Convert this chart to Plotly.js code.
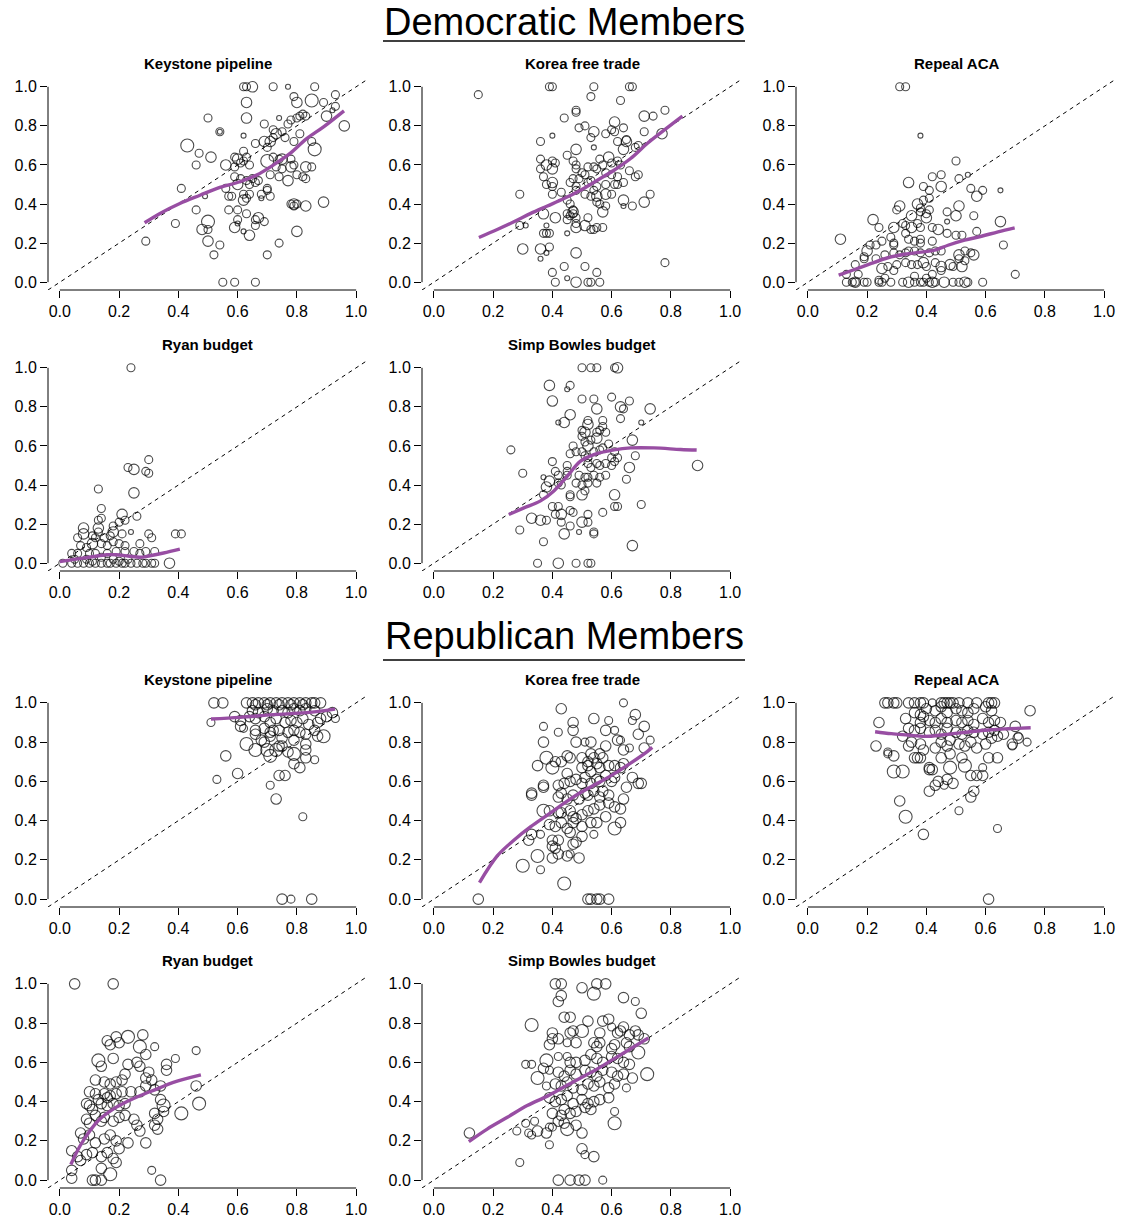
<!DOCTYPE html>
<html>
<head>
<meta charset="utf-8">
<script src="https://cdn.plot.ly/plotly-3.0.1.min.js"></script>
<style>html,body{margin:0;padding:0;background:#fff;}#chart{width:1124px;height:1220px;}</style>
</head>
<body>
<div id="chart"></div>
<script>
// ---------- data: [x, y, weight] ----------
const tickVals = [0, 0.2, 0.4, 0.6, 0.8, 1.0];
const tickText = ["0.0", "0.2", "0.4", "0.6", "0.8", "1.0"];
const groupTitles = ["Democratic Members", "Republican Members"];
const panelTitles = ["Keystone pipeline", "Korea free trade", "Repeal ACA", "Ryan budget", "Simp Bowles budget"];

const demKeystone = [[0.29,0.21,2],[0.39,0.30,2],[0.41,0.48,2],[0.43,0.70,4],[0.47,0.66,2],[0.46,0.60,2],[0.50,0.84,2],[0.51,0.64,3],[0.54,0.77,2],[0.54,0.77,1],[0.46,0.37,2],[0.49,0.44,1],[0.48,0.27,3],[0.50,0.31,4],[0.50,0.27,2],[0.50,0.21,3],[0.54,0.19,2],[0.52,0.14,2],[0.55,0,2],[0.59,0,2],[0.66,0,2],[0.62,1,2],[0.63,1,2],[0.65,1,3],[0.72,1,2],[0.77,1,1],[0.86,1,2],[0.63,0.92,3],[0.79,0.95,2],[0.80,0.92,3],[0.85,0.93,4],[0.89,0.92,2],[0.93,0.96,2],[0.93,0.90,2],[0.92,0.88,1],[0.90,0.85,3],[0.96,0.80,3],[0.81,0.85,2],[0.82,0.86,2],[0.83,0.85,2],[0.80,0.84,2],[0.78,0.83,2],[0.74,0.84,1],[0.77,0.81,2],[0.63,0.84,3],[0.62,0.75,1],[0.69,0.81,2],[0.72,0.78,2],[0.73,0.76,3],[0.75,0.77,2],[0.76,0.74,2],[0.72,0.74,2],[0.71,0.72,3],[0.81,0.76,2],[0.79,0.72,2],[0.85,0.72,2],[0.86,0.68,4],[0.66,0.71,2],[0.69,0.72,3],[0.70,0.69,2],[0.62,0.67,2],[0.59,0.64,2],[0.60,0.63,3],[0.62,0.62,2],[0.63,0.64,2],[0.64,0.60,2],[0.56,0.60,3],[0.59,0.59,2],[0.61,0.61,2],[0.70,0.62,4],[0.72,0.64,2],[0.74,0.63,2],[0.75,0.63,3],[0.78,0.63,2],[0.73,0.59,2],[0.75,0.58,2],[0.78,0.59,3],[0.79,0.60,2],[0.83,0.59,3],[0.85,0.59,2],[0.82,0.54,2],[0.83,0.53,2],[0.80,0.55,2],[0.77,0.52,3],[0.74,0.54,2],[0.71,0.55,2],[0.67,0.52,2],[0.65,0.53,2],[0.63,0.52,2],[0.59,0.54,2],[0.61,0.53,2],[0.60,0.50,3],[0.64,0.50,2],[0.66,0.51,2],[0.70,0.48,2],[0.70,0.47,2],[0.68,0.45,2],[0.71,0.44,2],[0.68,0.43,1],[0.56,0.48,2],[0.57,0.44,2],[0.58,0.44,2],[0.62,0.42,3],[0.63,0.43,2],[0.64,0.45,2],[0.62,0.45,2],[0.57,0.37,2],[0.60,0.37,2],[0.63,0.35,2],[0.67,0.33,3],[0.66,0.32,2],[0.69,0.31,2],[0.66,0.29,2],[0.60,0.32,2],[0.60,0.30,1],[0.59,0.28,3],[0.62,0.26,1],[0.64,0.24,3],[0.78,0.40,2],[0.79,0.40,3],[0.80,0.40,2],[0.79,0.39,2],[0.83,0.39,3],[0.89,0.41,3],[0.80,0.26,3],[0.74,0.20,2],[0.70,0.14,2]];
const demKeystoneFit = [[0.286,0.304],[0.338,0.352],[0.405,0.403],[0.473,0.445],[0.54,0.485],[0.608,0.514],[0.664,0.548],[0.72,0.599],[0.777,0.659],[0.833,0.735],[0.89,0.795],[0.959,0.877]];

const demKorea = [[0.15,0.96,2],[0.39,1,2],[0.40,1,2],[0.54,1,2],[0.66,1,2],[0.67,1,2],[0.53,0.95,2],[0.63,0.93,2],[0.48,0.88,2],[0.48,0.87,2],[0.44,0.84,2],[0.51,0.80,2],[0.49,0.79,2],[0.54,0.77,3],[0.53,0.74,2],[0.58,0.76,2],[0.61,0.82,3],[0.60,0.78,2],[0.61,0.77,2],[0.64,0.79,2],[0.62,0.72,2],[0.65,0.73,2],[0.65,0.72,3],[0.64,0.68,3],[0.69,0.70,2],[0.68,0.69,2],[0.71,0.85,3],[0.74,0.85,2],[0.78,0.88,2],[0.71,0.77,2],[0.77,0.76,3],[0.54,0.69,1],[0.40,0.75,1],[0.36,0.72,2],[0.48,0.68,3],[0.45,0.65,2],[0.36,0.63,2],[0.36,0.58,2],[0.40,0.62,2],[0.41,0.61,2],[0.38,0.60,3],[0.40,0.58,3],[0.37,0.54,2],[0.40,0.51,3],[0.38,0.50,2],[0.40,0.49,2],[0.47,0.62,2],[0.48,0.60,2],[0.48,0.58,2],[0.50,0.56,2],[0.51,0.55,2],[0.52,0.59,2],[0.54,0.59,2],[0.55,0.58,2],[0.56,0.63,2],[0.59,0.64,3],[0.60,0.61,2],[0.62,0.62,2],[0.63,0.60,2],[0.57,0.60,2],[0.58,0.56,2],[0.60,0.55,2],[0.62,0.54,2],[0.66,0.57,2],[0.69,0.55,2],[0.68,0.54,2],[0.64,0.51,2],[0.62,0.50,2],[0.61,0.50,2],[0.58,0.50,2],[0.55,0.49,2],[0.54,0.47,2],[0.52,0.51,2],[0.53,0.52,2],[0.49,0.53,2],[0.47,0.53,2],[0.46,0.51,2],[0.48,0.49,2],[0.48,0.47,2],[0.51,0.45,2],[0.53,0.44,2],[0.55,0.44,3],[0.58,0.45,3],[0.60,0.45,2],[0.55,0.41,2],[0.56,0.40,2],[0.58,0.39,2],[0.57,0.36,3],[0.64,0.42,3],[0.64,0.39,1],[0.67,0.39,2],[0.71,0.41,3],[0.73,0.45,2],[0.29,0.45,2],[0.40,0.45,2],[0.43,0.46,2],[0.45,0.42,2],[0.46,0.40,2],[0.47,0.37,2],[0.47,0.36,3],[0.45,0.35,2],[0.47,0.35,2],[0.37,0.35,3],[0.41,0.33,3],[0.45,0.32,2],[0.46,0.34,2],[0.48,0.33,2],[0.48,0.30,2],[0.48,0.28,3],[0.52,0.33,2],[0.51,0.29,3],[0.53,0.27,2],[0.54,0.27,2],[0.55,0.28,2],[0.57,0.28,2],[0.29,0.29,2],[0.31,0.29,1],[0.38,0.29,1],[0.37,0.25,2],[0.38,0.25,2],[0.39,0.25,2],[0.45,0.25,1],[0.30,0.17,3],[0.36,0.17,3],[0.39,0.18,2],[0.38,0.15,1],[0.36,0.12,1],[0.48,0.15,3],[0.44,0.08,2],[0.40,0.05,2],[0.45,0.02,1],[0.51,0.08,2],[0.55,0.05,2],[0.41,0,2],[0.48,0,3],[0.52,0,2],[0.53,0,2],[0.56,0,2],[0.78,0.10,2]];
const demKoreaFit = [[0.152,0.229],[0.214,0.27],[0.27,0.309],[0.327,0.352],[0.383,0.39],[0.439,0.428],[0.495,0.471],[0.552,0.522],[0.608,0.573],[0.664,0.633],[0.72,0.71],[0.777,0.778],[0.839,0.85]];

const demRepeal = [[0.31,1,2],[0.33,1,2],[0.38,0.75,1],[0.50,0.62,2],[0.51,0.53,2],[0.54,0.55,1],[0.45,0.55,2],[0.42,0.54,2],[0.34,0.51,3],[0.39,0.49,2],[0.41,0.47,2],[0.45,0.49,3],[0.55,0.48,2],[0.59,0.47,2],[0.57,0.44,3],[0.65,0.47,1],[0.39,0.42,2],[0.41,0.43,2],[0.31,0.39,3],[0.37,0.40,3],[0.38,0.38,2],[0.38,0.36,2],[0.40,0.35,2],[0.41,0.37,2],[0.40,0.33,3],[0.51,0.39,3],[0.50,0.34,3],[0.47,0.36,2],[0.56,0.34,2],[0.47,0.31,1],[0.35,0.34,3],[0.30,0.37,2],[0.32,0.30,2],[0.33,0.29,2],[0.35,0.28,3],[0.37,0.30,2],[0.38,0.28,2],[0.22,0.32,3],[0.24,0.28,2],[0.29,0.28,3],[0.28,0.23,2],[0.29,0.20,2],[0.33,0.25,2],[0.34,0.22,2],[0.36,0.21,2],[0.38,0.22,2],[0.38,0.20,2],[0.42,0.21,2],[0.42,0.28,2],[0.44,0.27,3],[0.47,0.25,2],[0.50,0.24,2],[0.52,0.24,2],[0.57,0.26,2],[0.65,0.31,3],[0.66,0.19,2],[0.11,0.22,3],[0.21,0.19,2],[0.23,0.19,2],[0.20,0.16,3],[0.19,0.13,2],[0.19,0.12,2],[0.23,0.12,2],[0.26,0.14,2],[0.29,0.19,2],[0.29,0.15,2],[0.31,0.14,2],[0.33,0.15,2],[0.25,0.21,2],[0.34,0.16,2],[0.36,0.16,2],[0.38,0.15,2],[0.41,0.15,2],[0.43,0.16,2],[0.45,0.16,2],[0.51,0.12,2],[0.51,0.14,3],[0.53,0.16,2],[0.55,0.15,2],[0.56,0.14,3],[0.53,0.11,2],[0.16,0.09,2],[0.17,0.04,2],[0.13,0.04,2],[0.25,0.07,3],[0.27,0.08,2],[0.29,0.06,2],[0.30,0.09,2],[0.33,0.10,2],[0.35,0.09,2],[0.37,0.09,2],[0.39,0.10,3],[0.40,0.08,2],[0.43,0.10,2],[0.45,0.08,3],[0.45,0.06,2],[0.48,0.09,3],[0.49,0.08,2],[0.52,0.08,3],[0.70,0.04,2],[0.13,0,2],[0.15,0,2],[0.16,0,3],[0.16,0,2],[0.19,0,2],[0.20,0,2],[0.24,0,2],[0.25,0,2],[0.28,0,2],[0.32,0,2],[0.34,0,3],[0.36,0,2],[0.38,0,2],[0.39,0,2],[0.41,0,2],[0.42,0,3],[0.43,0,2],[0.46,0,3],[0.49,0,2],[0.51,0,2],[0.53,0,3],[0.54,0,2],[0.59,0,2],[0.24,0.01,2],[0.26,0.02,2],[0.36,0.03,2],[0.40,0.02,2],[0.42,0.04,2]];
const demRepealFit = [[0.104,0.036],[0.158,0.065],[0.214,0.096],[0.27,0.125],[0.327,0.143],[0.383,0.154],[0.428,0.164],[0.473,0.189],[0.529,0.215],[0.586,0.235],[0.642,0.258],[0.698,0.278]];

const demRyan = [[0.24,1,2],[0.23,0.49,2],[0.25,0.48,3],[0.30,0.53,2],[0.29,0.47,2],[0.30,0.46,2],[0.25,0.36,3],[0.13,0.38,2],[0.14,0.28,2],[0.26,0.24,2],[0.21,0.25,3],[0.22,0.22,2],[0.20,0.21,2],[0.13,0.22,2],[0.14,0.23,2],[0.08,0.18,3],[0.13,0.18,3],[0.18,0.19,2],[0.24,0.16,1],[0.21,0.15,2],[0.30,0.15,2],[0.31,0.13,2],[0.39,0.15,2],[0.41,0.15,2],[0.06,0.13,2],[0.08,0.15,3],[0.11,0.14,2],[0.12,0.13,2],[0.13,0.16,2],[0.15,0.13,2],[0.17,0.14,2],[0.18,0.16,3],[0.07,0.09,2],[0.09,0.08,2],[0.11,0.10,3],[0.14,0.10,2],[0.16,0.09,2],[0.18,0.11,2],[0.20,0.10,2],[0.22,0.09,2],[0.27,0.10,2],[0.19,0.06,2],[0.22,0.06,2],[0.25,0.06,2],[0.27,0.05,2],[0.29,0.06,2],[0.32,0.06,2],[0.04,0.05,2],[0.06,0.05,2],[0.10,0.05,2],[0.12,0.05,2],[0.16,0.05,2],[0.01,0,2],[0.04,0,2],[0.06,0,2],[0.08,0,2],[0.10,0,2],[0.12,0,2],[0.14,0,2],[0.16,0,2],[0.17,0,2],[0.19,0,2],[0.21,0,2],[0.22,0,2],[0.24,0,2],[0.26,0,2],[0.28,0,2],[0.29,0,2],[0.31,0,2],[0.32,0,2],[0.37,0,3],[0.05,0.02,2],[0.09,0.02,2],[0.14,0.03,2],[0.18,0.02,2],[0.23,0.02,2],[0.11,0.01,2],[0.20,0.01,2]];
const demRyanFit = [[0.0,0.008],[0.06,0.022],[0.11,0.033],[0.158,0.043],[0.19,0.043],[0.23,0.037],[0.27,0.03],[0.304,0.038],[0.35,0.052],[0.405,0.072]];

const demSimpson = [[0.50,1,2],[0.53,1,2],[0.55,1,2],[0.61,1,2],[0.62,1,3],[0.39,0.91,3],[0.46,0.91,2],[0.45,0.89,1],[0.40,0.83,3],[0.50,0.84,2],[0.54,0.84,2],[0.60,0.85,2],[0.66,0.83,2],[0.63,0.80,3],[0.64,0.79,2],[0.63,0.74,2],[0.73,0.79,3],[0.55,0.79,3],[0.46,0.76,3],[0.42,0.72,1],[0.44,0.72,3],[0.52,0.73,2],[0.52,0.71,3],[0.57,0.73,2],[0.57,0.70,2],[0.70,0.72,1],[0.67,0.63,3],[0.68,0.55,2],[0.66,0.49,3],[0.65,0.43,2],[0.26,0.58,2],[0.30,0.46,2],[0.40,0.52,2],[0.37,0.44,1],[0.39,0.42,3],[0.41,0.47,2],[0.42,0.45,2],[0.38,0.39,3],[0.37,0.35,2],[0.43,0.40,2],[0.42,0.41,2],[0.45,0.50,2],[0.45,0.47,2],[0.45,0.45,2],[0.46,0.56,2],[0.47,0.60,2],[0.48,0.57,2],[0.50,0.65,2],[0.51,0.62,2],[0.52,0.60,3],[0.53,0.63,2],[0.55,0.64,3],[0.50,0.68,2],[0.51,0.67,3],[0.55,0.67,2],[0.56,0.68,2],[0.58,0.67,2],[0.50,0.57,2],[0.51,0.55,2],[0.52,0.54,2],[0.54,0.57,2],[0.56,0.58,2],[0.57,0.59,2],[0.59,0.61,2],[0.61,0.57,2],[0.62,0.54,2],[0.60,0.54,2],[0.52,0.51,2],[0.53,0.49,2],[0.55,0.51,2],[0.56,0.50,2],[0.58,0.51,2],[0.60,0.50,2],[0.61,0.52,2],[0.49,0.45,2],[0.51,0.44,2],[0.52,0.44,2],[0.54,0.45,2],[0.56,0.44,2],[0.58,0.45,2],[0.48,0.41,2],[0.50,0.40,2],[0.52,0.41,2],[0.55,0.41,2],[0.50,0.35,3],[0.51,0.37,2],[0.46,0.35,2],[0.46,0.34,2],[0.61,0.35,3],[0.61,0.29,2],[0.62,0.29,2],[0.57,0.26,2],[0.70,0.30,2],[0.33,0.23,3],[0.36,0.22,3],[0.38,0.22,2],[0.40,0.29,2],[0.42,0.29,2],[0.43,0.25,3],[0.46,0.27,2],[0.47,0.26,2],[0.41,0.25,2],[0.43,0.21,2],[0.46,0.19,2],[0.44,0.15,3],[0.50,0.21,3],[0.52,0.21,2],[0.52,0.25,2],[0.49,0.16,1],[0.54,0.16,2],[0.54,0.15,2],[0.29,0.17,2],[0.37,0.11,2],[0.67,0.09,3],[0.89,0.50,3],[0.35,0,2],[0.42,0,3],[0.48,0,2],[0.52,0,2],[0.53,0,2]];
const demSimpsonFit = [[0.253,0.249],[0.304,0.283],[0.36,0.319],[0.405,0.37],[0.45,0.445],[0.495,0.522],[0.54,0.556],[0.608,0.58],[0.664,0.59],[0.743,0.59],[0.833,0.582],[0.887,0.579]];

const repKeystone = [[0.52,1,3],[0.55,1,3],[0.63,1,3],[0.65,1,3],[0.67,1,3],[0.69,1,3],[0.71,1,3],[0.73,1,3],[0.75,1,3],[0.77,1,3],[0.79,1,3],[0.81,1,3],[0.83,1,3],[0.85,1,3],[0.86,1,3],[0.88,1,3],[0.66,0.99,3],[0.70,0.99,3],[0.74,0.99,3],[0.78,0.99,3],[0.82,0.99,3],[0.51,0.90,2],[0.59,0.93,3],[0.61,0.88,3],[0.62,0.87,2],[0.61,0.91,3],[0.63,0.79,4],[0.66,0.84,3],[0.66,0.76,4],[0.68,0.81,3],[0.69,0.80,3],[0.71,0.83,3],[0.70,0.76,4],[0.71,0.73,4],[0.73,0.76,4],[0.74,0.78,3],[0.75,0.78,3],[0.77,0.75,3],[0.79,0.74,4],[0.79,0.69,3],[0.81,0.67,3],[0.83,0.72,3],[0.86,0.71,2],[0.83,0.79,3],[0.83,0.76,3],[0.87,0.83,3],[0.89,0.83,4],[0.86,0.86,3],[0.88,0.92,3],[0.90,0.93,3],[0.92,0.95,3],[0.93,0.92,2],[0.65,0.96,3],[0.67,0.95,3],[0.70,0.97,3],[0.72,0.96,3],[0.75,0.96,3],[0.77,0.95,3],[0.79,0.97,3],[0.81,0.96,3],[0.83,0.97,3],[0.86,0.96,3],[0.64,0.93,3],[0.66,0.92,3],[0.69,0.93,3],[0.71,0.90,3],[0.73,0.92,3],[0.76,0.90,3],[0.78,0.91,3],[0.80,0.90,3],[0.82,0.92,3],[0.84,0.89,3],[0.87,0.90,3],[0.72,0.86,3],[0.74,0.86,3],[0.77,0.85,3],[0.79,0.86,3],[0.81,0.85,3],[0.69,0.87,3],[0.71,0.85,3],[0.66,0.86,3],[0.83,0.84,3],[0.75,0.82,3],[0.79,0.81,3],[0.56,0.73,3],[0.60,0.64,3],[0.53,0.61,2],[0.74,0.63,3],[0.76,0.63,3],[0.71,0.58,2],[0.73,0.51,3],[0.82,0.42,2],[0.75,0,3],[0.78,0,2],[0.85,0,3]];
const repKeystoneFit = [[0.51,0.918],[0.608,0.926],[0.72,0.94],[0.833,0.95],[0.929,0.968]];

const repKorea = [[0.64,1,2],[0.43,0.97,3],[0.54,0.92,3],[0.59,0.91,2],[0.68,0.94,3],[0.67,0.91,2],[0.47,0.90,3],[0.47,0.86,3],[0.37,0.88,2],[0.42,0.85,2],[0.71,0.88,3],[0.69,0.84,3],[0.58,0.86,3],[0.61,0.86,2],[0.62,0.81,3],[0.63,0.81,2],[0.73,0.81,2],[0.66,0.77,2],[0.64,0.76,3],[0.37,0.80,3],[0.48,0.80,3],[0.51,0.80,2],[0.53,0.80,3],[0.58,0.78,3],[0.71,0.77,3],[0.38,0.72,4],[0.41,0.70,3],[0.43,0.70,3],[0.45,0.73,3],[0.46,0.72,3],[0.35,0.68,3],[0.40,0.67,4],[0.45,0.64,3],[0.50,0.72,3],[0.52,0.70,3],[0.53,0.74,3],[0.54,0.72,3],[0.56,0.74,3],[0.57,0.72,3],[0.50,0.67,3],[0.52,0.68,3],[0.53,0.65,3],[0.55,0.69,3],[0.56,0.67,3],[0.59,0.68,3],[0.61,0.68,3],[0.63,0.67,3],[0.64,0.69,3],[0.67,0.62,3],[0.69,0.59,3],[0.70,0.59,3],[0.65,0.57,3],[0.37,0.58,3],[0.37,0.57,3],[0.33,0.54,3],[0.33,0.53,3],[0.42,0.58,3],[0.44,0.59,3],[0.46,0.60,3],[0.48,0.61,3],[0.50,0.59,3],[0.51,0.62,3],[0.53,0.59,3],[0.55,0.61,3],[0.56,0.60,3],[0.58,0.63,3],[0.60,0.60,3],[0.61,0.62,3],[0.42,0.52,3],[0.43,0.54,3],[0.45,0.51,3],[0.47,0.53,3],[0.49,0.51,3],[0.51,0.54,3],[0.52,0.53,3],[0.54,0.55,3],[0.56,0.52,3],[0.57,0.55,3],[0.59,0.53,3],[0.64,0.51,3],[0.37,0.45,4],[0.39,0.45,3],[0.42,0.44,3],[0.43,0.44,3],[0.46,0.45,3],[0.47,0.42,3],[0.50,0.43,3],[0.52,0.45,3],[0.54,0.46,3],[0.56,0.48,3],[0.59,0.49,3],[0.61,0.47,3],[0.63,0.46,3],[0.39,0.38,3],[0.41,0.37,3],[0.43,0.39,3],[0.45,0.36,3],[0.47,0.39,3],[0.48,0.41,3],[0.50,0.37,3],[0.53,0.39,3],[0.55,0.39,3],[0.58,0.42,3],[0.61,0.36,4],[0.63,0.39,3],[0.33,0.33,3],[0.32,0.30,3],[0.36,0.33,2],[0.40,0.30,3],[0.42,0.30,3],[0.40,0.27,3],[0.41,0.26,3],[0.46,0.34,3],[0.48,0.29,3],[0.47,0.28,3],[0.50,0.32,3],[0.54,0.33,2],[0.35,0.22,4],[0.30,0.17,4],[0.36,0.15,2],[0.40,0.21,3],[0.42,0.23,3],[0.45,0.22,3],[0.46,0.23,2],[0.49,0.21,3],[0.44,0.08,4],[0.15,0,3],[0.52,0,3],[0.53,0,3],[0.55,0,3],[0.56,0,3],[0.59,0,3]];
const repKoreaFit = [[0.154,0.084],[0.214,0.22],[0.27,0.30],[0.327,0.369],[0.383,0.428],[0.439,0.488],[0.495,0.543],[0.552,0.59],[0.608,0.638],[0.664,0.693],[0.72,0.752],[0.737,0.773]];

const repRepeal = [[0.26,1,3],[0.27,1,3],[0.29,1,3],[0.30,1,3],[0.34,1,3],[0.36,1,3],[0.38,1,3],[0.39,1,3],[0.42,1,2],[0.45,1,3],[0.46,1,3],[0.47,1,3],[0.48,1,3],[0.49,1,3],[0.51,1,3],[0.54,1,3],[0.57,1,3],[0.61,1,3],[0.62,1,3],[0.63,1,3],[0.75,0.96,3],[0.24,0.90,3],[0.33,0.92,3],[0.23,0.78,3],[0.27,0.75,2],[0.27,0.74,2],[0.29,0.73,3],[0.29,0.65,4],[0.32,0.65,4],[0.32,0.83,3],[0.36,0.95,3],[0.38,0.94,3],[0.39,0.93,3],[0.38,0.90,3],[0.41,0.91,3],[0.43,0.90,3],[0.45,0.92,3],[0.47,0.90,3],[0.50,0.91,3],[0.52,0.90,3],[0.54,0.91,3],[0.56,0.89,3],[0.59,0.92,3],[0.61,0.90,3],[0.63,0.91,3],[0.65,0.90,3],[0.40,0.97,3],[0.43,0.96,3],[0.45,0.98,3],[0.47,0.95,3],[0.50,0.97,3],[0.52,0.96,3],[0.54,0.95,3],[0.56,0.97,3],[0.60,0.98,3],[0.62,0.96,3],[0.34,0.87,3],[0.36,0.86,3],[0.38,0.87,3],[0.41,0.85,3],[0.43,0.86,3],[0.45,0.84,3],[0.47,0.87,3],[0.50,0.85,3],[0.52,0.84,3],[0.54,0.86,3],[0.56,0.85,3],[0.59,0.84,3],[0.61,0.85,3],[0.63,0.86,3],[0.66,0.84,3],[0.70,0.88,3],[0.34,0.78,3],[0.35,0.80,3],[0.38,0.79,3],[0.39,0.76,3],[0.43,0.77,3],[0.45,0.80,3],[0.47,0.78,3],[0.48,0.81,3],[0.51,0.79,3],[0.53,0.78,3],[0.55,0.80,3],[0.57,0.77,3],[0.60,0.79,3],[0.62,0.82,3],[0.64,0.83,3],[0.69,0.79,3],[0.69,0.78,2],[0.74,0.80,2],[0.71,0.82,3],[0.71,0.83,2],[0.36,0.72,3],[0.37,0.72,3],[0.38,0.72,3],[0.41,0.67,3],[0.41,0.66,3],[0.42,0.66,3],[0.45,0.72,3],[0.48,0.74,3],[0.52,0.72,3],[0.48,0.67,4],[0.53,0.68,4],[0.55,0.63,3],[0.57,0.63,3],[0.59,0.63,3],[0.59,0.67,2],[0.61,0.72,3],[0.64,0.72,3],[0.43,0.58,3],[0.44,0.60,3],[0.46,0.58,2],[0.49,0.59,3],[0.47,0.61,3],[0.41,0.55,3],[0.55,0.52,3],[0.56,0.55,3],[0.31,0.50,3],[0.33,0.42,4],[0.51,0.45,2],[0.39,0.33,3],[0.64,0.36,2],[0.61,0,3]];
const repRepealFit = [[0.227,0.853],[0.282,0.843],[0.338,0.836],[0.394,0.829],[0.45,0.836],[0.507,0.846],[0.563,0.855],[0.619,0.863],[0.676,0.868],[0.752,0.873]];

const repRyan = [[0.05,1,3],[0.18,1,3],[0.46,0.66,2],[0.46,0.48,3],[0.47,0.39,4],[0.41,0.34,4],[0.39,0.62,2],[0.36,0.59,3],[0.36,0.56,3],[0.28,0.74,3],[0.27,0.68,4],[0.23,0.73,4],[0.20,0.70,3],[0.19,0.73,3],[0.16,0.71,3],[0.17,0.69,3],[0.32,0.68,2],[0.29,0.64,3],[0.13,0.61,4],[0.14,0.58,3],[0.18,0.62,3],[0.23,0.59,3],[0.26,0.60,3],[0.27,0.58,3],[0.30,0.55,3],[0.31,0.51,3],[0.29,0.52,3],[0.22,0.54,3],[0.21,0.51,3],[0.12,0.51,3],[0.15,0.50,3],[0.17,0.49,3],[0.19,0.50,3],[0.10,0.45,3],[0.12,0.44,3],[0.13,0.41,3],[0.15,0.44,3],[0.16,0.42,3],[0.17,0.43,3],[0.19,0.44,3],[0.21,0.45,3],[0.24,0.45,3],[0.27,0.45,3],[0.29,0.48,3],[0.32,0.46,3],[0.34,0.48,3],[0.34,0.41,3],[0.35,0.38,4],[0.35,0.35,3],[0.32,0.34,3],[0.33,0.31,3],[0.32,0.28,3],[0.33,0.26,3],[0.09,0.39,3],[0.10,0.38,3],[0.11,0.36,3],[0.14,0.39,3],[0.16,0.38,3],[0.18,0.39,3],[0.20,0.38,3],[0.22,0.39,3],[0.09,0.31,3],[0.10,0.29,3],[0.12,0.33,3],[0.14,0.30,3],[0.15,0.32,3],[0.18,0.30,3],[0.20,0.32,3],[0.22,0.33,3],[0.25,0.31,3],[0.26,0.28,3],[0.27,0.25,3],[0.29,0.19,3],[0.07,0.24,3],[0.08,0.21,3],[0.10,0.23,3],[0.12,0.19,3],[0.15,0.21,3],[0.17,0.23,3],[0.19,0.20,3],[0.20,0.16,3],[0.23,0.19,3],[0.04,0.15,3],[0.06,0.12,3],[0.07,0.10,3],[0.09,0.13,3],[0.11,0.14,3],[0.14,0.12,3],[0.16,0.14,3],[0.18,0.11,3],[0.19,0.09,3],[0.04,0.05,3],[0.04,0.01,3],[0.14,0.06,3],[0.17,0.03,4],[0.11,0,3],[0.12,0,3],[0.14,0,3],[0.31,0.05,2],[0.34,0,3]];
const repRyanFit = [[0.037,0.08],[0.068,0.174],[0.101,0.25],[0.135,0.311],[0.18,0.362],[0.225,0.399],[0.27,0.43],[0.327,0.464],[0.383,0.498],[0.476,0.536]];

const repSimpson = [[0.12,0.24,3],[0.29,0.09,2],[0.28,0.25,2],[0.31,0.29,2],[0.32,0.24,2],[0.33,0.23,2],[0.34,0.30,2],[0.35,0.25,3],[0.39,0.18,2],[0.38,0.24,3],[0.33,0.79,4],[0.31,0.59,2],[0.33,0.59,2],[0.35,0.52,4],[0.37,0.57,3],[0.38,0.61,4],[0.39,0.56,2],[0.38,0.48,2],[0.40,0.75,3],[0.40,0.72,3],[0.39,0.69,3],[0.42,0.72,3],[0.41,1,3],[0.43,1,3],[0.50,0.98,3],[0.55,1,3],[0.58,1,3],[0.54,0.95,4],[0.43,0.94,3],[0.42,0.91,3],[0.64,0.93,3],[0.68,0.91,2],[0.70,0.85,3],[0.44,0.83,3],[0.46,0.83,3],[0.52,0.81,3],[0.57,0.81,3],[0.59,0.82,3],[0.60,0.78,2],[0.50,0.76,4],[0.47,0.76,3],[0.46,0.75,3],[0.48,0.70,3],[0.45,0.70,2],[0.56,0.75,3],[0.62,0.75,3],[0.64,0.78,3],[0.63,0.76,3],[0.66,0.74,3],[0.68,0.76,3],[0.69,0.74,3],[0.71,0.72,3],[0.54,0.70,3],[0.55,0.68,3],[0.56,0.70,3],[0.65,0.70,3],[0.66,0.68,3],[0.61,0.69,3],[0.60,0.67,3],[0.69,0.65,4],[0.72,0.54,4],[0.67,0.52,3],[0.65,0.47,2],[0.42,0.63,2],[0.45,0.63,2],[0.46,0.60,3],[0.48,0.60,3],[0.51,0.61,3],[0.53,0.64,3],[0.55,0.62,3],[0.57,0.60,3],[0.60,0.63,3],[0.62,0.62,3],[0.64,0.60,3],[0.66,0.59,3],[0.42,0.55,3],[0.44,0.53,3],[0.46,0.56,3],[0.48,0.54,3],[0.51,0.56,3],[0.53,0.55,3],[0.55,0.53,3],[0.57,0.56,3],[0.60,0.55,3],[0.62,0.53,3],[0.64,0.54,3],[0.41,0.49,3],[0.43,0.48,3],[0.45,0.50,3],[0.47,0.47,3],[0.50,0.46,3],[0.52,0.49,3],[0.54,0.48,3],[0.56,0.50,3],[0.59,0.47,3],[0.61,0.49,3],[0.39,0.42,3],[0.41,0.40,3],[0.43,0.41,3],[0.45,0.43,3],[0.47,0.39,3],[0.50,0.41,3],[0.52,0.39,3],[0.54,0.40,3],[0.56,0.41,3],[0.59,0.42,3],[0.40,0.34,3],[0.43,0.33,3],[0.44,0.36,3],[0.46,0.34,3],[0.48,0.35,3],[0.51,0.37,3],[0.53,0.36,3],[0.61,0.35,2],[0.61,0.29,4],[0.42,0.30,3],[0.44,0.29,3],[0.45,0.26,4],[0.48,0.28,3],[0.50,0.24,3],[0.40,0.27,2],[0.39,0.27,2],[0.50,0.16,3],[0.51,0.13,2],[0.54,0.12,3],[0.42,0,3],[0.46,0,3],[0.49,0,3],[0.51,0,3],[0.57,0,2]];
const repSimpsonFit = [[0.118,0.196],[0.18,0.26],[0.248,0.32],[0.315,0.38],[0.383,0.428],[0.439,0.474],[0.495,0.52],[0.552,0.567],[0.608,0.618],[0.664,0.669],[0.724,0.724]];

// ---------- layout & drawing ----------
const W = 1124, H = 1220;
const FONT = "Liberation Sans, Arial, Helvetica, sans-serif";
const FIT_COLOR = "#984EA3";
const sizePx = {1: 5, 2: 8, 3: 10.5, 4: 13};
const colPx = [[48, 368], [422, 742], [796, 1116]];
const rowPx = [[79, 290], [360, 571], [695, 907], [976, 1188]];

const panels = [
  {pts: demKeystone, fit: demKeystoneFit, t: 0, r: 0, c: 0},
  {pts: demKorea, fit: demKoreaFit, t: 1, r: 0, c: 1},
  {pts: demRepeal, fit: demRepealFit, t: 2, r: 0, c: 2},
  {pts: demRyan, fit: demRyanFit, t: 3, r: 1, c: 0},
  {pts: demSimpson, fit: demSimpsonFit, t: 4, r: 1, c: 1},
  {pts: repKeystone, fit: repKeystoneFit, t: 0, r: 2, c: 0},
  {pts: repKorea, fit: repKoreaFit, t: 1, r: 2, c: 1},
  {pts: repRepeal, fit: repRepealFit, t: 2, r: 2, c: 2},
  {pts: repRyan, fit: repRyanFit, t: 3, r: 3, c: 0},
  {pts: repSimpson, fit: repSimpsonFit, t: 4, r: 3, c: 1}
];

const traces = [];
const shapes = [];
const annotations = [];
const layout = {
  width: W, height: H,
  margin: {l: 0, r: 0, t: 0, b: 0},
  paper_bgcolor: "#fff", plot_bgcolor: "#fff",
  showlegend: false,
  font: {family: FONT, color: "#000"}
};

panels.forEach((p, i) => {
  const n = i + 1;
  const xa = n === 1 ? "x" : "x" + n;
  const ya = n === 1 ? "y" : "y" + n;
  const cx = colPx[p.c], ry = rowPx[p.r];
  const axCommon = {
    range: [-0.04, 1.04], showgrid: false, zeroline: false, showline: false,
    ticks: "outside", ticklen: 7, tickwidth: 1, tickcolor: "#000",
    tickmode: "array", tickvals: tickVals, ticktext: tickText,
    tickfont: {size: 16, family: FONT, color: "#000"}, fixedrange: true
  };
  layout["xaxis" + (n === 1 ? "" : n)] = Object.assign({}, axCommon, {
    domain: [cx[0] / W, cx[1] / W], anchor: ya
  });
  layout["yaxis" + (n === 1 ? "" : n)] = Object.assign({}, axCommon, {
    domain: [1 - ry[1] / H, 1 - ry[0] / H], anchor: xa
  });

  traces.push({
    type: "scatter", mode: "markers", xaxis: xa, yaxis: ya,
    x: p.pts.map(d => d[0]), y: p.pts.map(d => d[1]),
    marker: {symbol: "circle", color: "rgba(0,0,0,0)", size: p.pts.map(d => sizePx[d[2]]),
             line: {color: "#000", width: 1.1}},
    hoverinfo: "skip", cliponaxis: false
  });
  traces.push({
    type: "scatter", mode: "lines", xaxis: xa, yaxis: ya,
    x: p.fit.map(d => d[0]), y: p.fit.map(d => d[1]),
    line: {color: FIT_COLOR, width: 3.4, shape: "spline", smoothing: 1},
    hoverinfo: "skip"
  });

  // dashed 45-degree line
  shapes.push({type: "line", xref: xa, yref: ya, x0: -0.04, y0: -0.04, x1: 1.04, y1: 1.04,
    line: {color: "#000", width: 1, dash: "4px,4px"}, layer: "below"});
  // R-style axis lines spanning 0..1
  shapes.push({type: "line", xref: xa, yref: ya + " domain", x0: 0, x1: 1, y0: 0, y1: 0,
    line: {color: "#000", width: 1}});
  shapes.push({type: "line", xref: xa + " domain", yref: ya, x0: 0, x1: 0, y0: 0, y1: 1,
    line: {color: "#000", width: 1}});

  annotations.push({
    xref: "paper", yref: "paper", x: (cx[0] + cx[1]) / 2 / W, y: 1 - (ry[0] - 16) / H,
    text: "<b>" + panelTitles[p.t] + "</b>", showarrow: false,
    xanchor: "center", yanchor: "middle", font: {size: 15, family: FONT, color: "#000"}
  });
});

// group titles with underline
const groupTitleY = [22, 636];
const underlineY = [41, 660];
groupTitles.forEach((t, k) => {
  annotations.push({
    xref: "paper", yref: "paper", x: 564 / W, y: 1 - groupTitleY[k] / H,
    text: t, showarrow: false, xanchor: "center", yanchor: "middle",
    font: {size: 38, family: FONT, color: "#000"}
  });
  shapes.push({type: "line", xref: "paper", yref: "paper",
    x0: 383 / W, x1: 745 / W, y0: 1 - underlineY[k] / H, y1: 1 - underlineY[k] / H,
    line: {color: "#000", width: 1.5}});
});

layout.shapes = shapes;
layout.annotations = annotations;

Plotly.newPlot("chart", traces, layout, {displayModeBar: false, staticPlot: true});
</script>
</body>
</html>
